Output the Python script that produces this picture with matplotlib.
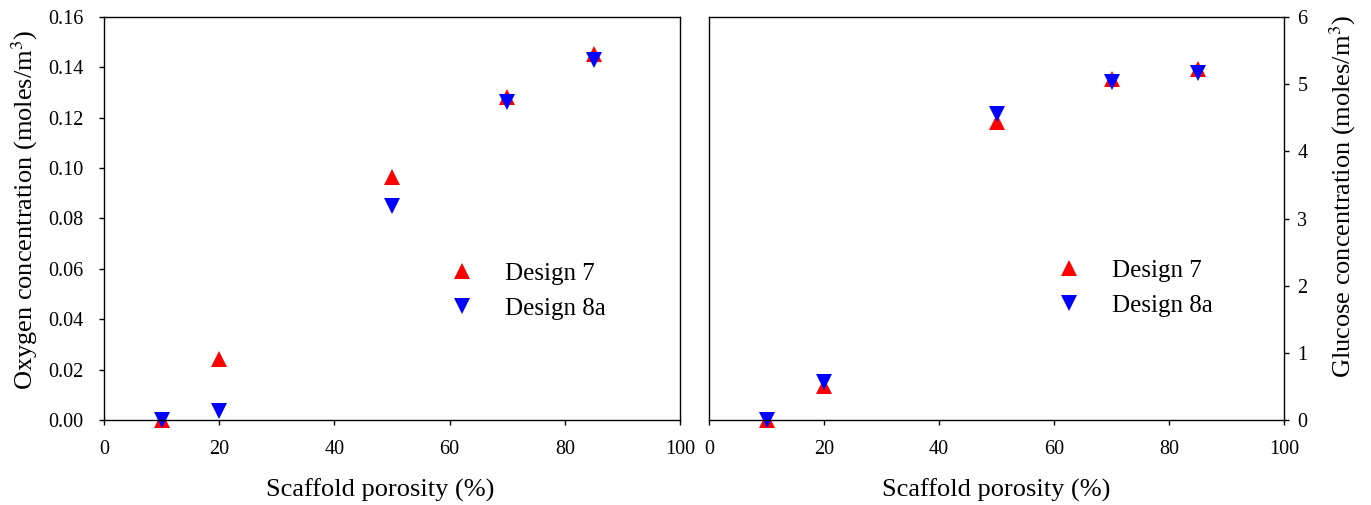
import numpy as np
import matplotlib.pyplot as plt

plt.rcParams['font.family'] = ['Liberation Serif', 'DejaVu Serif']
plt.rcParams['mathtext.fontset'] = 'stix'

porosity = [10, 20, 50, 70, 85]
oxy_d7 = [0.000, 0.0243, 0.0963, 0.1284, 0.1452]
oxy_d8a = [0.000, 0.0035, 0.0849, 0.1263, 0.1429]
glu_d7 = [0.00, 0.50, 4.43, 5.08, 5.23]
glu_d8a = [0.00, 0.57, 4.56, 5.03, 5.16]
oxy_ticks = np.arange(0, 0.161, 0.02)

fig = plt.figure(figsize=(13.71, 5.05), dpi=100)
ax1 = fig.add_axes([104/1371, 1-420/505, 576/1371, 403/505])
ax2 = fig.add_axes([709/1371, 1-420/505, 575/1371, 403/505])

ms = 11
for ax, d7, d8 in [(ax1, oxy_d7, oxy_d8a), (ax2, glu_d7, glu_d8a)]:
    ax.plot(porosity, d7, '^', color='red', ms=ms, mew=0, ls='none', label='Design 7', clip_on=False)
    ax.plot(porosity, d8, 'v', color='blue', ms=ms, mew=0, ls='none', label='Design 8a', clip_on=False)
    ax.set_xlim(0, 100)
    ax.set_xticks(np.arange(0, 101, 20))
    ax.set_xlabel('Scaffold porosity (%)', fontsize=19)
    ax.xaxis.label.set_va('center')
    ax.tick_params(direction='out', length=3.6, width=1, labelsize=14.5, top=False)
    ax.tick_params(axis='x', pad=11)
    for s in ax.spines.values():
        s.set_linewidth(1.0)
    ax.legend(loc='center left', frameon=False, fontsize=18, handlelength=1,
              handletextpad=1.24, labelspacing=0.5, borderaxespad=0, borderpad=0)

ax1.set_ylim(0, 0.16)
ax1.set_yticks(oxy_ticks)
ax1.set_yticklabels([f'{v:.2f}' for v in oxy_ticks])
ax1.set_ylabel('Oxygen concentration (moles/m$^3$)', fontsize=19, va='center', ha='center')
ax1.tick_params(axis='y', right=False, pad=11)
ax1.yaxis.set_label_coords(-0.137, 0.521)
ax1.xaxis.set_label_coords(0.48, -0.174)
ax1.get_legend().set_bbox_to_anchor((0.599, 0.32))

ax2.set_ylim(0, 6)
ax2.yaxis.tick_right()
ax2.yaxis.set_label_position('right')
ax2.set_ylabel('Glucose concentration (moles/m$^3$)', fontsize=19, va='center', ha='center')
ax2.tick_params(axis='y', left=False, pad=6)
ax2.yaxis.set_label_coords(1.103, 0.556)
ax2.xaxis.set_label_coords(0.5, -0.174)
ax2.get_legend().set_bbox_to_anchor((0.6035, 0.3275))

fig.savefig('out.png', dpi=100)
